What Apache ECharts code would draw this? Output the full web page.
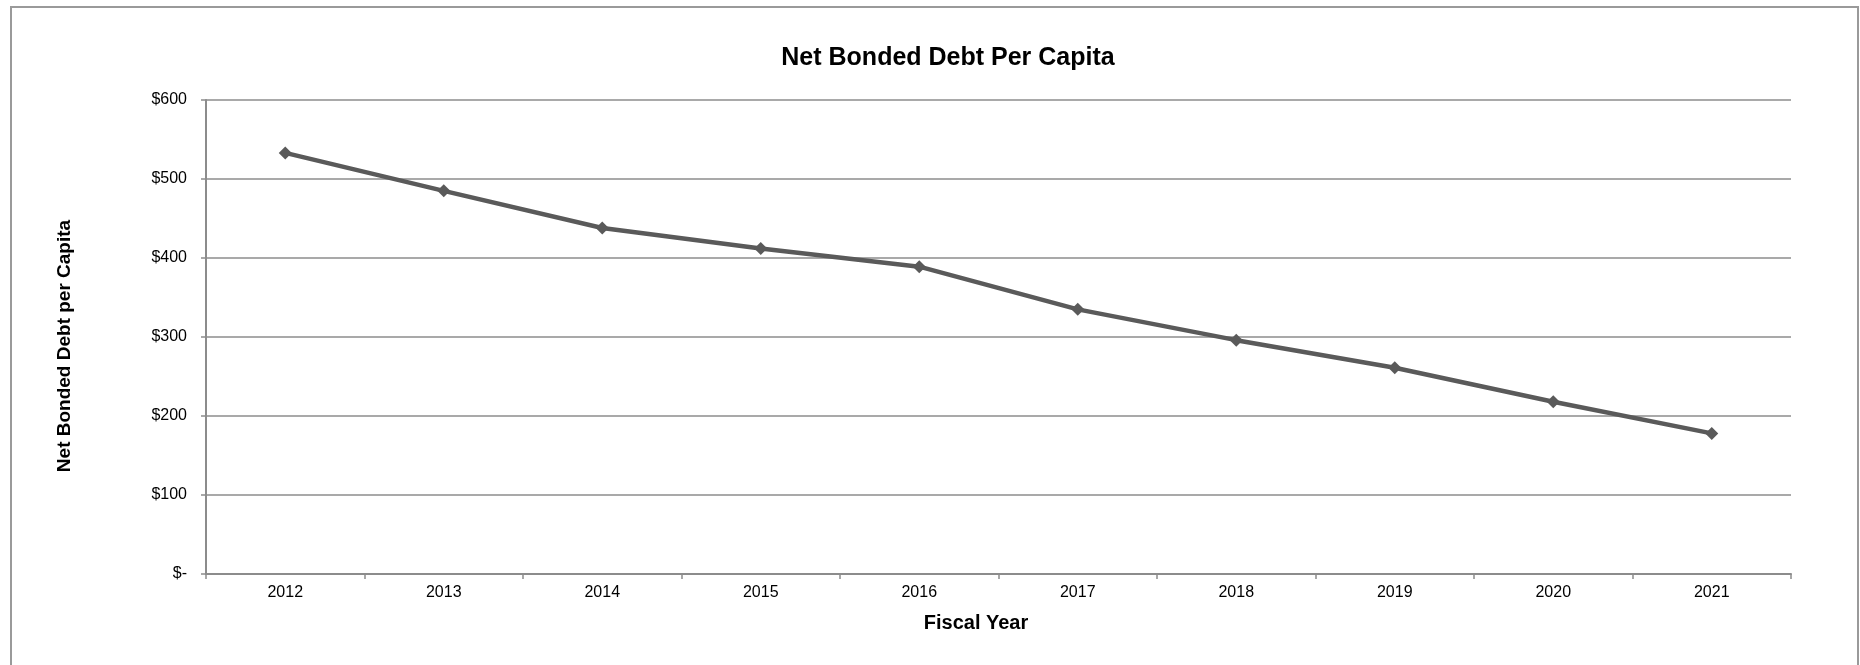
<!DOCTYPE html>
<html>
<head>
<meta charset="utf-8">
<script src="https://cdn.jsdelivr.net/npm/echarts@6/dist/echarts.min.js"></script>
<style>
html,body{margin:0;padding:0;background:#fff;}
#chart{width:1860px;height:665px;}
</style>
</head>
<body>
<div id="chart"></div>
<script>
const titleText = 'Net Bonded Debt Per Capita';
const xAxisTitle = 'Fiscal Year';
const yAxisTitle = 'Net Bonded Debt per Capita';
const categories = ['2012','2013','2014','2015','2016','2017','2018','2019','2020','2021'];
const debtPerCapita = [533, 485, 438, 412, 389, 335, 296, 261, 218, 178];
const yTicks = [0, 100, 200, 300, 400, 500, 600];

const FONT = '"Liberation Sans", Arial, sans-serif';
const chart = echarts.init(document.getElementById('chart'), null, {renderer: 'canvas'});
chart.setOption({
  backgroundColor: '#ffffff',
  animation: false,
  title: {
    text: titleText,
    left: 943,
    top: 41,
    textAlign: 'center',
    textStyle: {fontFamily: FONT, fontSize: 25, fontWeight: 'bold', color: '#000'}
  },
  graphic: [
    {type: 'rect', shape: {x: 11, y: 7, width: 1847, height: 700},
     style: {fill: 'none', stroke: '#9a9a9a', lineWidth: 2}, silent: true, z: -1},
    {type: 'text', x: 976, y: 623,
     style: {text: xAxisTitle, font: 'bold 20px "Liberation Sans", Arial, sans-serif',
             fill: '#000', align: 'center', verticalAlign: 'middle'}},
    {type: 'text', x: 65, y: 346, rotation: Math.PI / 2,
     style: {text: yAxisTitle, font: 'bold 19px "Liberation Sans", Arial, sans-serif',
             fill: '#000', align: 'center', verticalAlign: 'middle'}}
  ],
  grid: {left: 206, right: 69, top: 100, bottom: 91, containLabel: false},
  xAxis: {
    type: 'category',
    data: categories,
    boundaryGap: true,
    axisLine: {show: true, lineStyle: {color: '#8c8c8c', width: 2}},
    axisTick: {show: true, alignWithLabel: false, length: 5, lineStyle: {color: '#8c8c8c', width: 1.5}},
    axisLabel: {fontFamily: FONT, fontSize: 16, color: '#000', margin: 11},
    splitLine: {show: false}
  },
  yAxis: {
    type: 'value',
    min: yTicks[0],
    max: yTicks[yTicks.length - 1],
    interval: 100,
    axisLine: {show: true, lineStyle: {color: '#8c8c8c', width: 2}},
    axisTick: {show: true, length: 5, lineStyle: {color: '#8c8c8c', width: 1.5}},
    axisLabel: {fontFamily: FONT, fontSize: 16, color: '#000', margin: 19,
      formatter: v => v === 0 ? '$-' : '$' + v},
    splitLine: {show: true, lineStyle: {color: '#8c8c8c', width: 1.5}}
  },
  series: [{
    type: 'line',
    data: debtPerCapita,
    symbol: 'diamond',
    symbolSize: 13,
    lineStyle: {color: '#5a5a5a', width: 4.5},
    itemStyle: {color: '#5a5a5a'},
    z: 5
  }]
});
</script>
</body>
</html>
